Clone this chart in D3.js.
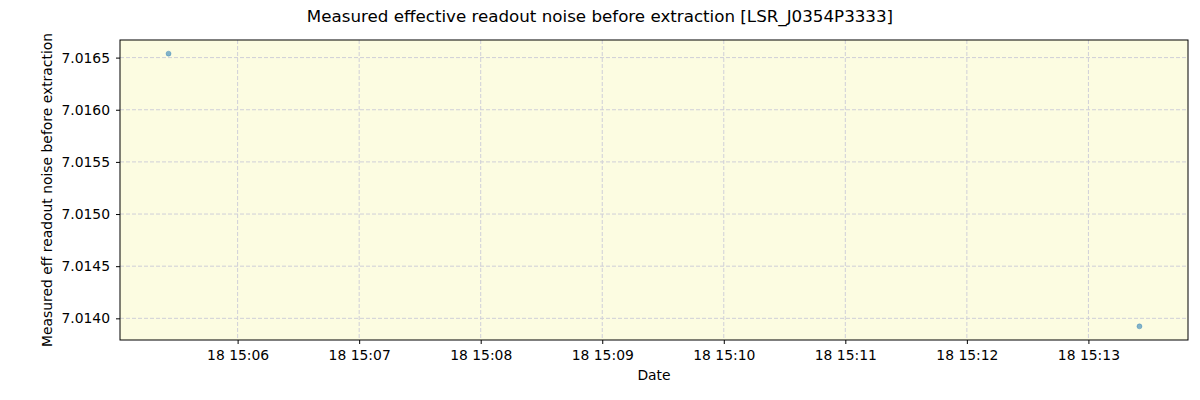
<!DOCTYPE html>
<html>
<head>
<meta charset="utf-8">
<script src="https://cdn.jsdelivr.net/npm/d3@7"></script>
<style>
  body { margin: 0; background: #fff; }
  text { font-family: "DejaVu Sans", sans-serif; fill: #000; }
</style>
</head>
<body>
<script>
// data
var times = ["2023-01-18 15:05:25.9", "2023-01-18 15:13:25.2"];
var noise = [7.016538, 7.013923];
var yTicks = [7.014, 7.0145, 7.015, 7.0155, 7.016, 7.0165];

var W = 1200, H = 400;
var margin = { top: 40, right: 12, bottom: 60, left: 120 },
  width = W - margin.left - margin.right,
  height = H - margin.top - margin.bottom;

var parse = d3.timeParse("%Y-%m-%d %H:%M:%S.%L");
var pts = times.map((t, i) => ({ t: parse(t + "00"), v: noise[i] }));

// matplotlib-like 5% padding
var tExt = d3.extent(pts, (d) => d.t.getTime());
var tPad = (tExt[1] - tExt[0]) * 0.05;
var vExt = d3.extent(pts, (d) => d.v);
var vPad = (vExt[1] - vExt[0]) * 0.05;

var x = d3.scaleTime()
  .domain([new Date(tExt[0] - tPad), new Date(tExt[1] + tPad)])
  .range([0, width]);
var y = d3.scaleLinear()
  .domain([vExt[0] - vPad, vExt[1] + vPad])
  .range([height, 0]);

var svg = d3.select("body").append("svg")
  .attr("width", W).attr("height", H);

svg.append("text")
  .attr("x", W / 2).attr("y", 22)
  .attr("text-anchor", "middle")
  .style("font-size", "16.7px")
  .text("Measured effective readout noise before extraction [LSR_J0354P3333]");

var g = svg.append("g")
  .attr("transform", "translate(" + margin.left + "," + margin.top + ")");

g.append("rect")
  .attr("width", width).attr("height", height)
  .attr("fill", "#fcfce1");

var xTicks = x.ticks(d3.timeMinute.every(1));

// grid
g.selectAll(".gx").data(xTicks).enter().append("line")
  .attr("x1", (d) => x(d)).attr("x2", (d) => x(d))
  .attr("y1", 0).attr("y2", height)
  .attr("stroke", "#cfcfd8").attr("stroke-dasharray", "4,2");
g.selectAll(".gy").data(yTicks).enter().append("line")
  .attr("y1", (d) => y(d)).attr("y2", (d) => y(d))
  .attr("x1", 0).attr("x2", width)
  .attr("stroke", "#cfcfd8").attr("stroke-dasharray", "4,2");

// axes
var xAxis = g.append("g")
  .attr("transform", "translate(0," + height + ")")
  .call(d3.axisBottom(x).tickValues(xTicks).tickFormat(d3.timeFormat("%d %H:%M")).tickSizeOuter(0).tickSize(4).tickPadding(6));
var yAxis = g.append("g")
  .call(d3.axisLeft(y).tickValues(yTicks).tickFormat(d3.format(".4f")).tickSizeOuter(0).tickSize(4).tickPadding(6));
[xAxis, yAxis].forEach(function (a) {
  a.select(".domain").remove();
  a.selectAll("text").style("font-size", "13.9px").style("font-family", "DejaVu Sans, sans-serif");
  a.selectAll("line").attr("stroke", "#000");
});

g.append("rect")
  .attr("width", width).attr("height", height)
  .attr("fill", "none").attr("stroke", "#000").attr("stroke-width", 1);

// points
g.selectAll(".pt").data(pts).enter().append("circle")
  .attr("cx", (d) => x(d.t)).attr("cy", (d) => y(d.v))
  .attr("r", 2.5)
  .attr("fill", "#1f77b4").attr("fill-opacity", 0.55)
  .attr("stroke", "#1f77b4").attr("stroke-opacity", 0.55).attr("stroke-width", 0.6);

// labels
svg.append("text")
  .attr("x", margin.left + width / 2).attr("y", 380)
  .attr("text-anchor", "middle")
  .style("font-size", "13.9px")
  .text("Date");
svg.append("text")
  .attr("transform", "translate(52," + (margin.top + height / 2) + ") rotate(-90)")
  .attr("text-anchor", "middle")
  .style("font-size", "13.9px")
  .text("Measured eff readout noise before extraction");
</script>
</body>
</html>
